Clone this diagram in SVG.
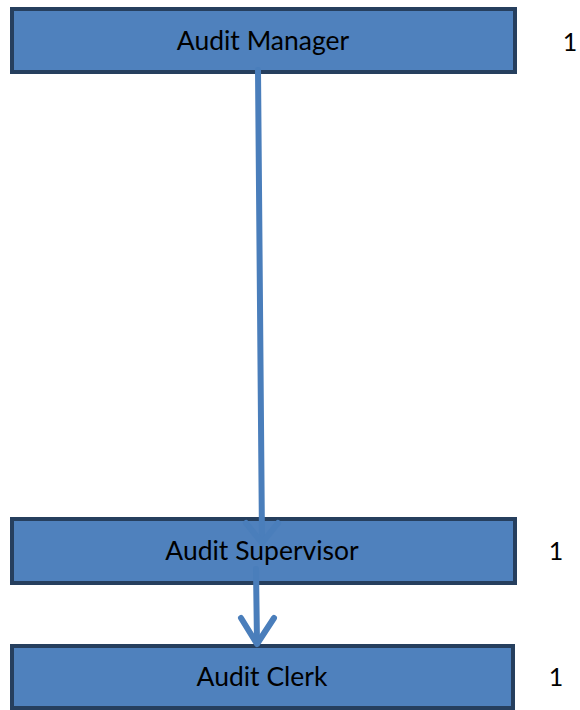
<svg xmlns="http://www.w3.org/2000/svg" width="580" height="710" viewBox="0 0 580 710">
<style>
.box{fill:#4F81BD;stroke:#263F5E;stroke-width:4}
.lbl{font-family:Lato,"Liberation Sans",sans-serif;font-size:26.5px;fill:#000;text-anchor:middle;dominant-baseline:central}
.num{font-family:Lato,"Liberation Sans",sans-serif;font-size:25px;fill:#000;text-anchor:middle;dominant-baseline:central}
.conn{fill:none;stroke:#4A7EBB;stroke-width:6;stroke-linecap:round;stroke-linejoin:round}
</style>
<rect width="580" height="710" fill="#fff"/>
<g id="manager">
<rect class="box" x="12" y="9" width="503" height="63"/>
<text class="lbl" x="263" y="40">Audit Manager</text>
</g>
<g id="supervisor">
<rect class="box" x="12" y="519" width="503" height="64"/>
<text class="lbl" x="262" y="550">Audit Supervisor</text>
</g>
<g id="clerk">
<rect class="box" x="12" y="646" width="501" height="62"/>
<text class="lbl" x="262" y="676">Audit Clerk</text>
</g>
<g id="counts">
<text class="num" x="570" y="41">1</text>
<text class="num" x="556" y="550">1</text>
<text class="num" x="556" y="676">1</text>
</g>
<g id="connectors">
<path class="conn" d="M258 70 L262 541"/>
<path class="conn" d="M246 523 L262 543 L278 523"/>
<path class="conn" d="M256 569 L257 643"/>
<path class="conn" d="M241 618 L257 644 L274 618"/>
</g>
</svg>
